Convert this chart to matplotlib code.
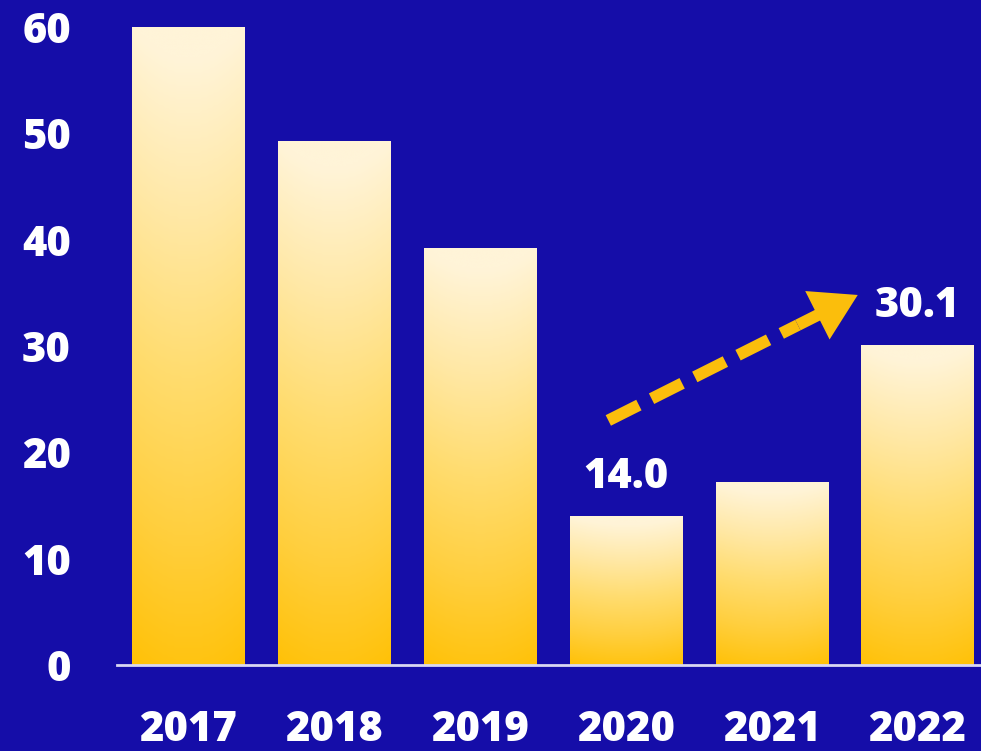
import matplotlib.pyplot as plt
import numpy as np
from matplotlib.colors import LinearSegmentedColormap

# yearly values shown as bars
years = ["2017", "2018", "2019", "2020", "2021", "2022"]
values = [60.0, 49.3, 39.2, 14.0, 17.2, 30.1]
labelled_years = ["2020", "2022"]
y_ticks = [0, 10, 20, 30, 40, 50, 60]

BG = "#150DA8"
GOLD = "#FBBE0C"

plt.rcParams["font.family"] = ["Open Sans", "DejaVu Sans"]

fig = plt.figure(figsize=(9.81, 7.51), dpi=100, facecolor=BG)
ax = fig.add_axes([0.119, 0.1145, 0.881, 0.8855], facecolor=BG)

x = np.arange(len(years))
bars = ax.bar(x, values, width=0.77, color="none", edgecolor="none", zorder=2)

# cream at the top of each bar fading to gold at the base, slightly lighter in the middle
cmap = LinearSegmentedColormap.from_list(
    "bar", ["#FFC107", "#FFCF3E", "#FFDC6E", "#FFE8A5", "#FFF4D8"])
t = np.linspace(0, 1, 256)[:, None]
u = np.linspace(-1, 1, 64)[None, :]
grad = np.clip(t + 0.05 * (1 - u ** 2), 0, 1)

for bar in bars:
    x0, w, h = bar.get_x(), bar.get_width(), bar.get_height()
    im = ax.imshow(grad, cmap=cmap, vmin=0, vmax=1, origin="lower", aspect="auto",
                   extent=[x0, x0 + w, 0, h], zorder=2, interpolation="bicubic")
    im.set_clip_path(bar)

for yr, xi, v in zip(years, x, values):
    if yr in labelled_years:
        ax.text(xi, v + 1.7, f"{v:.1f}", ha="center", va="bottom", color="white",
                fontsize=30, fontweight="heavy")

# dashed growth arrow between 2020 and 2022: dashed shaft plus a solid last
# stretch carrying the head
tail = np.array([2.88, 23.0])
tip = np.array([4.59, 34.8])
neck = tip - 0.24 * (tip - tail)
ax.annotate("", xy=neck, xytext=tail,
            arrowprops=dict(arrowstyle="-", color=GOLD, lw=8.5,
                            linestyle=(0, (2.9, 1.2)), shrinkA=0, shrinkB=0,
                            capstyle="butt"),
            zorder=3)
ax.annotate("", xy=tip, xytext=neck,
            arrowprops=dict(arrowstyle="-|>,head_length=2.0,head_width=1.2",
                            color=GOLD, lw=8.5, shrinkA=0, shrinkB=0,
                            joinstyle="miter", capstyle="butt"),
            zorder=3)

ax.set_xlim(-0.49, 5.435)
ax.set_ylim(0, 62.54)
ax.set_xticks(x, years)
ax.set_yticks(y_ticks)
ax.tick_params(axis="both", length=0, colors="white", labelsize=30)
ax.tick_params(axis="y", pad=33)
ax.tick_params(axis="x", pad=32)
for lbl in ax.get_xticklabels() + ax.get_yticklabels():
    lbl.set_fontweight("heavy")

for side in ["top", "right", "left"]:
    ax.spines[side].set_visible(False)
ax.spines["bottom"].set_color("#D9D8F2")
ax.spines["bottom"].set_linewidth(2)
ax.spines["bottom"].set_zorder(4)

fig.savefig("out.png", dpi=100, facecolor=BG)
